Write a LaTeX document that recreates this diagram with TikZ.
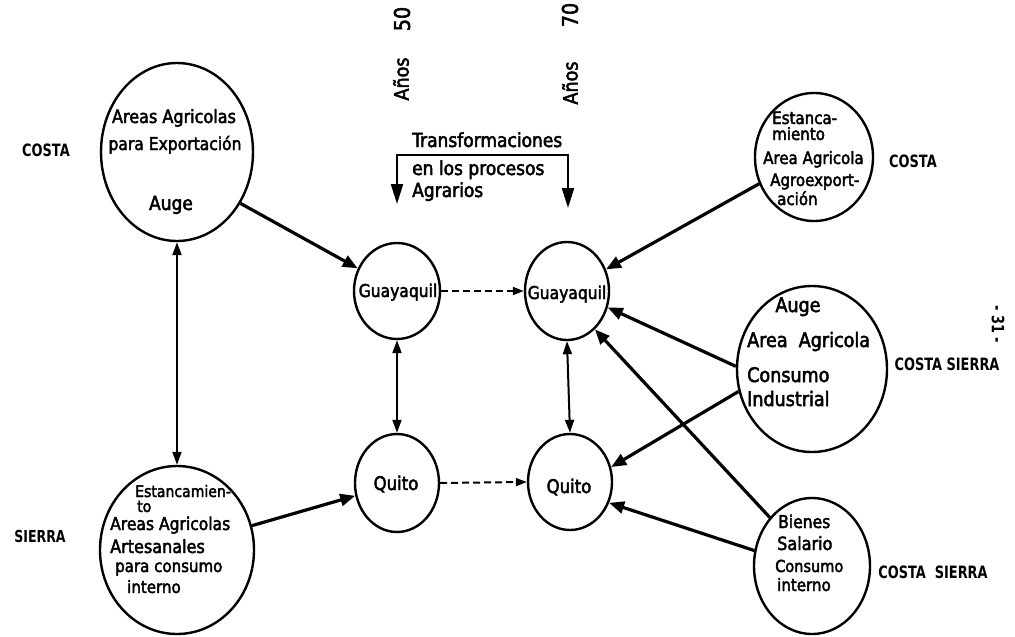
\documentclass[tikz,border=0pt]{standalone}
\usepackage{fontspec}
\setmainfont{DejaVu Sans}[FakeStretch=0.88, FakeBold=2.5]
\newfontfamily\labelfont{DejaVu Sans}[FakeStretch=0.76]
\usetikzlibrary{arrows.meta,shapes.geometric}
\newcommand{\fs}[1]{\pgfmathsetmacro\mysz{#1*1.14}\fontsize{\mysz}{\mysz}\selectfont}
\newcommand{\lfs}[1]{\labelfont\bfseries\fontsize{#1}{#1}\selectfont}
\begin{document}
\begin{tikzpicture}[x=1pt,y=-1pt,
  region/.style={draw, ellipse, line width=2.4pt, inner sep=0pt},
  txt/.style={inner sep=0pt, anchor=base west},
  ctxt/.style={inner sep=0pt, anchor=base},
  side/.style={inner sep=0pt, anchor=base, font=\lfs{17}},
  flow/.style={line width=3.2pt, -{Triangle[length=15pt,width=12pt]}},
  link/.style={line width=2pt, {Triangle[length=13pt,width=9pt]}-{Triangle[length=13pt,width=9pt]}},
  trend/.style={line width=2pt, dash pattern=on 7pt off 4pt, -{Triangle[length=11pt,width=8pt]}},
  bracket/.style={line width=2.2pt, {Triangle[length=20pt,width=12pt]}-{Triangle[length=20pt,width=12pt]}},
]
\useasboundingbox[fill=white] (0,0) rectangle (1015,637);

% ---- regions
\node[region, minimum width=152pt, minimum height=178pt] (TL) at (177,152) {};
\node[region, minimum width=154pt, minimum height=168pt] (BL) at (177,550) {};
\node[region, minimum width=86pt, minimum height=96pt] (GL) at (397,291) {};
\node[region, minimum width=84pt, minimum height=98pt] (QL) at (397,483) {};
\node[region, minimum width=84pt, minimum height=98pt] (GR) at (567,291) {};
\node[region, minimum width=84pt, minimum height=96pt] (QR) at (570,482) {};
\node[region, minimum width=118pt, minimum height=128pt] (RT) at (814,157) {};
\node[region, minimum width=150pt, minimum height=166pt] (RM) at (812,369) {};
\node[region, minimum width=116pt, minimum height=136pt] (RB) at (812,566) {};

% ---- texts in regions
\node[ctxt, font=\fs{16}] (tl1) at (174,123) {Areas Agricolas};
\node[ctxt, font=\fs{15.5}] (tl2) at (175,150) {para Exportación};
\node[ctxt, font=\fs{17}] (tl3) at (171,210) {Auge};

\node[txt, font=\fs{14}] (bl1) at (135,497) {Estancamien-};
\node[txt, font=\fs{14}] (bl2) at (137,512) {to};
\node[txt, font=\fs{15.5}] (bl3) at (110,530) {Areas Agricolas};
\node[txt, font=\fs{16}] (bl4) at (110,553) {Artesanales};
\node[txt, font=\fs{15}] (bl5) at (115,572) {para consumo};
\node[txt, font=\fs{15}] (bl6) at (127,593) {interno};

\node[ctxt, font=\fs{15.5}] (gl1) at (398,297) {Guayaquil};
\node[ctxt, font=\fs{16.5}] (ql1) at (396,490) {Quito};
\node[ctxt, font=\fs{15.5}] (gr1) at (567,299) {Guayaquil};
\node[ctxt, font=\fs{16.5}] (qr1) at (569,493) {Quito};

\node[txt, font=\fs{15}] (rt1) at (772,124) {Estanca-};
\node[txt, font=\fs{15}] (rt2) at (772,140) {miento};
\node[txt, font=\fs{15}] (rt3) at (763,164) {Area Agricola};
\node[txt, font=\fs{15}] (rt4) at (770,186) {Agroexport-};
\node[txt, font=\fs{15}] (rt5) at (777,205) {ación};

\node[ctxt, font=\fs{17.5}] (rm1) at (798,312) {Auge};
\node[txt, font=\fs{17.5}] (rm2) at (747,347) {Area\ \ Agricola};
\node[txt, font=\fs{17.5}] (rm3) at (747,382) {Consumo};
\node[txt, font=\fs{17.5}] (rm4) at (747,406) {Industrial};

\node[txt, font=\fs{15.5}] (rb1) at (778,528) {Bienes};
\node[txt, font=\fs{16}] (rb2) at (777,550) {Salario};
\node[txt, font=\fs{14.5}] (rb3) at (775,572) {Consumo};
\node[txt, font=\fs{15}] (rb4) at (777,591) {interno};

% ---- side labels
\node[side] (c1) at (46,156) {COSTA};
\node[side, font=\lfs{16.5}] (s1) at (40,542) {SIERRA};
\node[side] (c2) at (913,167) {COSTA};
\node[side] (cs1) at (947,370) {COSTA SIERRA};
\node[side] (cs2) at (933,578) {COSTA\ \ SIERRA};
\node[inner sep=0pt, rotate=-90, font=\lfs{17}] (pg) at (998,324) {- 31 -};

% ---- top annotation
\node[inner sep=0pt, rotate=90, font=\fs{19}] (a50) at (402,19) {50};
\node[inner sep=0pt, rotate=90, font=\fs{17.5}] (an50) at (401,79) {Años};
\node[inner sep=0pt, rotate=90, font=\fs{19}] (a70) at (570,15) {70};
\node[inner sep=0pt, rotate=90, font=\fs{17.5}] (an70) at (570,83) {Años};

\node[txt, font=\fs{17}] (tr1) at (412,147) {Transformaciones};
\node[txt, font=\fs{17}] (tr2) at (412,175) {en los procesos};
\node[txt, font=\fs{17}] (tr3) at (412,197) {Agrarios};

\coordinate (bL) at (397,155);
\coordinate (bR) at (568,155);
\coordinate (tipL) at (397,204);
\coordinate (tipR) at (568,208);
\draw[bracket] (tipL) -- (bL) -- (bR) -- (tipR);

% ---- connectors
\draw[flow] (TL.-39) -- (GL.150);
\draw[flow] (BL.18) -- (QL.197);
\draw[link] (TL.south) -- (BL.north);
\draw[link] (GL.south) -- (QL.north);
\draw[link] (GR.south) -- (QR.north);
\draw[trend] (GL.east) -- (GR.west);
\draw[trend] (QL.east) -- (QR.west);

\draw[flow] (RT.206) -- (GR.29);
\draw[flow] (RM.178) -- (GR.-22);
\draw[flow] (RM.197) -- (QR.20);
\draw[flow] (RB.131) -- (GR.-54);
\draw[flow] (RB.165) -- (QR.-28);
\end{tikzpicture}
\end{document}
